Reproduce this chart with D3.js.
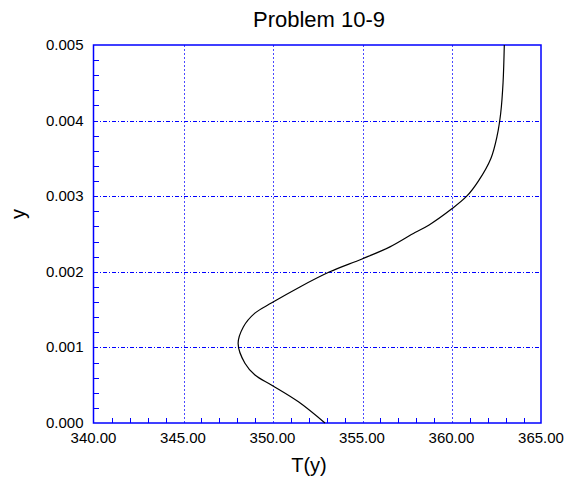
<!DOCTYPE html>
<meta charset="utf-8">
<style>
body { margin: 0; background: #fff; }
text { font-family: "Liberation Sans", Arial, sans-serif; fill: #000; }
.frame { fill: none; stroke: #0000ff; stroke-width: 1.5; }
.minor { stroke: #0000ff; stroke-width: 1; shape-rendering: crispEdges; }
.vgrid { stroke: #4a4aff; stroke-width: 1; stroke-dasharray: 2,2; shape-rendering: crispEdges; }
.hgrid { stroke: #0000ff; stroke-width: 1; stroke-dasharray: 4,2,1,2; shape-rendering: crispEdges; }
.curve { fill: none; stroke: #000; stroke-width: 1.2; }
</style>
<svg width="568" height="482"></svg>
<script src="https://d3js.org/d3.v7.min.js"></script>
<script>

// profile values
var yVals = [0, 0.00028, 0.0005, 0.000635, 0.00079, 0.00105, 0.00127, 0.00145, 0.00159,
             0.0018, 0.002, 0.00217, 0.00233, 0.00252, 0.00262, 0.00283, 0.003,
             0.0032, 0.0035, 0.0038, 0.0041, 0.0045, 0.005];
var tVals = [352.93, 351.45, 349.96, 349.02, 348.46, 348.08, 348.37, 349.0, 349.96,
             351.53, 353.2, 355.0, 356.56, 357.96, 358.75, 360.0, 360.85,
             361.5, 362.2, 362.55, 362.75, 362.88, 362.95];

var xTicks = [340, 345, 350, 355, 360, 365];
var yTicks = [0, 0.001, 0.002, 0.003, 0.004, 0.005];

var title = "Problem 10-9";
var xLabel = "T(y)";
var yLabel = "y";

var svg = d3.select("svg"),
    margin = {top: 45, right: 27, bottom: 59, left: 93.5},
    width = +svg.attr("width") - margin.left - margin.right,
    height = +svg.attr("height") - margin.top - margin.bottom,
    g = svg.append("g").attr("transform", "translate(" + margin.left + "," + margin.top + ")");

var x = d3.scaleLinear().domain([340, 365]).range([0, width]);
var y = d3.scaleLinear().domain([0, 0.005]).range([height, 0]);

// grid lines
g.selectAll(".vgrid")
  .data(xTicks.slice(1, -1))
  .enter().append("line")
    .attr("class", "vgrid")
    .attr("x1", function(d) { return Math.round(x(d)) + 0.5; })
    .attr("x2", function(d) { return Math.round(x(d)) + 0.5; })
    .attr("y1", 0)
    .attr("y2", height);

g.selectAll(".hgrid")
  .data(yTicks.slice(1, -1))
  .enter().append("line")
    .attr("class", "hgrid")
    .attr("x1", 0)
    .attr("x2", width)
    .attr("y1", function(d) { return Math.round(y(d)) + 0.5; })
    .attr("y2", function(d) { return Math.round(y(d)) + 0.5; });

// minor ticks, pointing inward
var xMinor = d3.range(340, 365.01, 1).filter(function(d) { return d % 5 !== 0; });
var yMinor = d3.range(0, 25).map(function(i) { return i * 0.0002; }).filter(function(d, i) { return i % 5 !== 0; });

g.selectAll(".xminor")
  .data(xMinor)
  .enter().append("line")
    .attr("class", "minor")
    .attr("x1", function(d) { return Math.round(x(d)) + 0.5; })
    .attr("x2", function(d) { return Math.round(x(d)) + 0.5; })
    .attr("y1", height)
    .attr("y2", height - 5);

g.selectAll(".yminor")
  .data(yMinor)
  .enter().append("line")
    .attr("class", "minor")
    .attr("x1", 0)
    .attr("x2", 5)
    .attr("y1", function(d) { return Math.round(y(d)) + 0.5; })
    .attr("y2", function(d) { return Math.round(y(d)) + 0.5; });

// frame
g.append("rect")
  .attr("class", "frame")
  .attr("x", 0)
  .attr("y", 0)
  .attr("width", width)
  .attr("height", height);

// curve
var line = d3.line()
  .curve(d3.curveCatmullRom.alpha(0.5))
  .x(function(d) { return x(d[1]); })
  .y(function(d) { return y(d[0]); });

g.append("path")
  .attr("class", "curve")
  .attr("d", line(d3.zip(yVals, tVals)));

// tick labels
g.selectAll(".xlab")
  .data(xTicks)
  .enter().append("text")
    .attr("x", function(d) { return x(d); })
    .attr("y", height + 20)
    .attr("text-anchor", "middle")
    .attr("font-size", "15px")
    .text(function(d) { return d.toFixed(2); });

g.selectAll(".ylab")
  .data(yTicks)
  .enter().append("text")
    .attr("x", -10)
    .attr("y", function(d) { return y(d) + 5; })
    .attr("text-anchor", "end")
    .attr("font-size", "15px")
    .text(function(d) { return d.toFixed(3); });

// titles
svg.append("text")
  .attr("x", 319)
  .attr("y", 27)
  .attr("text-anchor", "middle")
  .attr("font-size", "22px")
  .text(title);

svg.append("text")
  .attr("x", 309)
  .attr("y", 472)
  .attr("text-anchor", "middle")
  .attr("font-size", "20px")
  .text(xLabel);

svg.append("text")
  .attr("transform", "translate(24.5,214) rotate(-90)")
  .attr("text-anchor", "middle")
  .attr("font-size", "20px")
  .text(yLabel);

</script>
